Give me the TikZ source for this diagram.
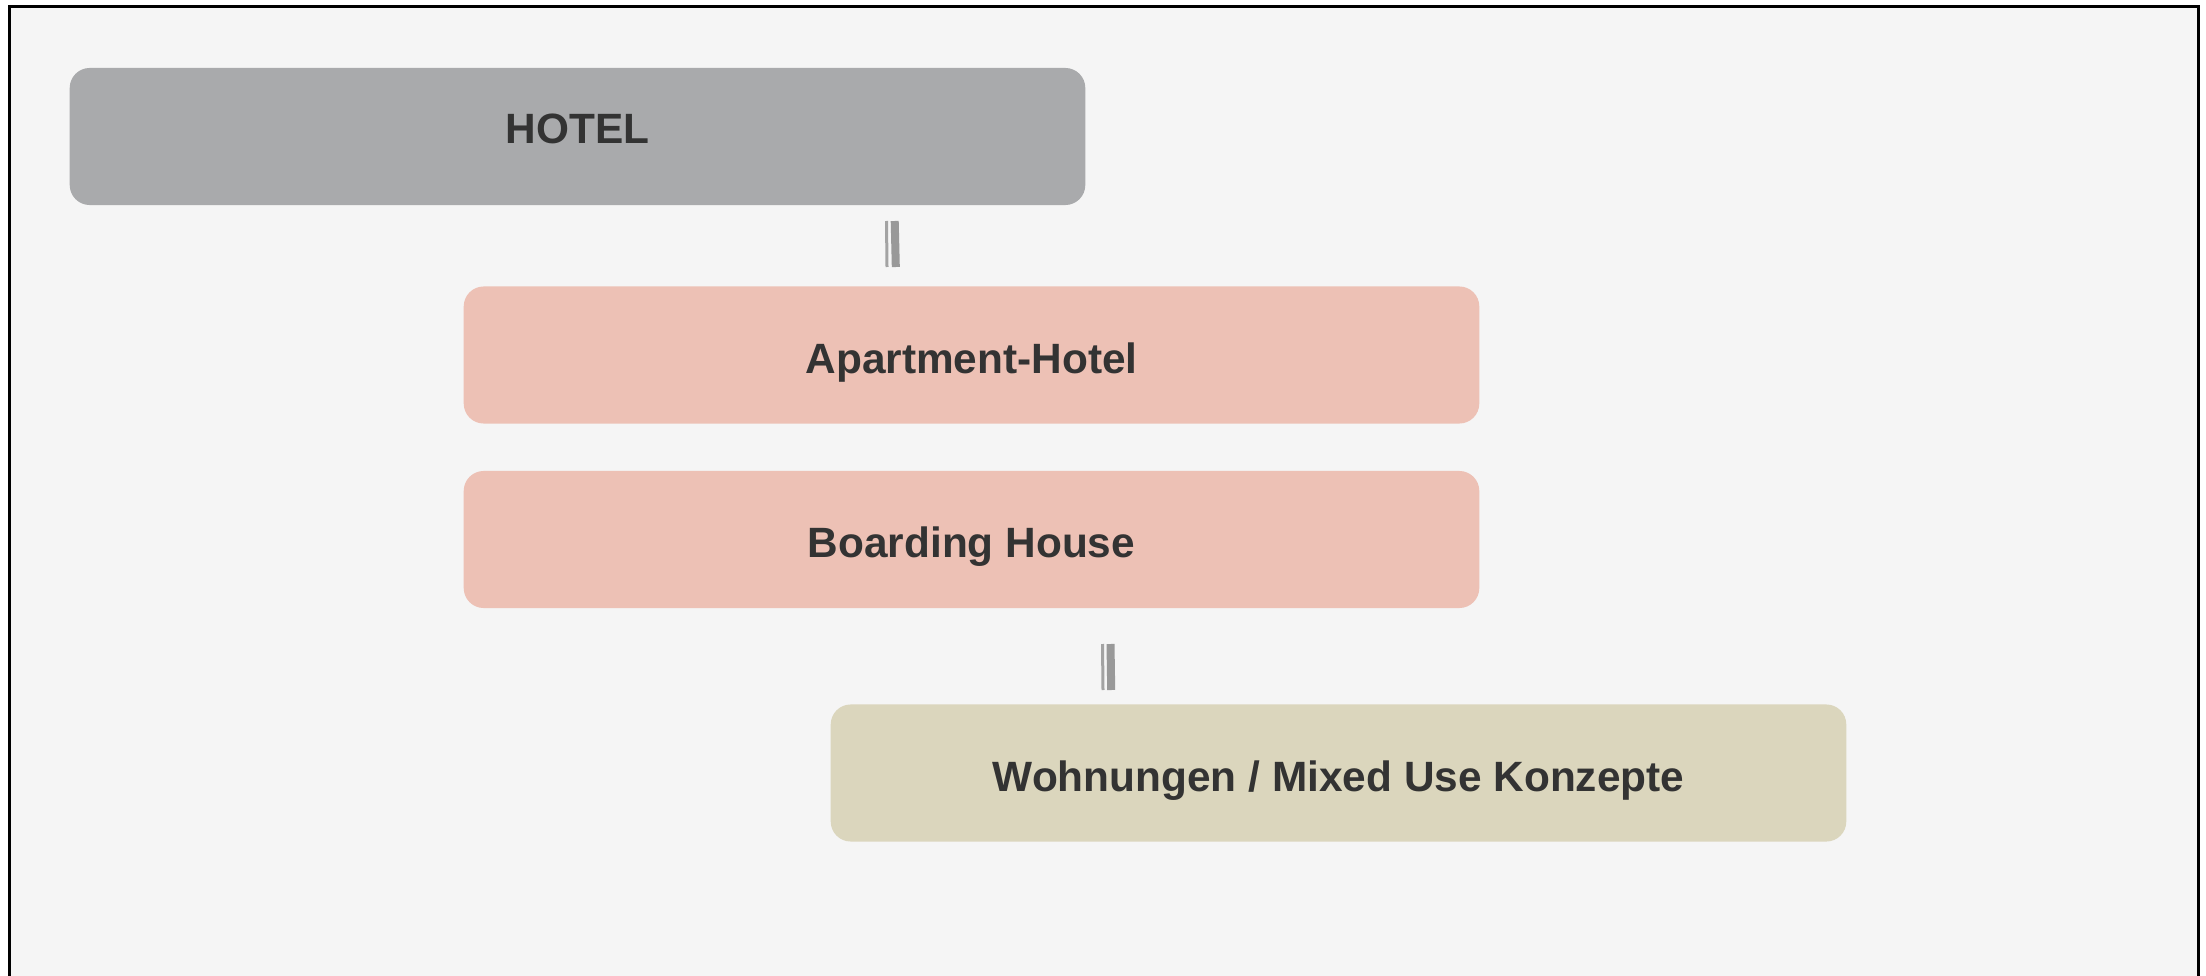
\documentclass[tikz,border=0pt]{standalone}
\usepackage{fontspec}
\setmainfont{Liberation Sans}
\definecolor{bgcol}{HTML}{F5F5F5}
\definecolor{hotelcol}{HTML}{A9AAAC}
\definecolor{aparthcol}{HTML}{EDC1B5}
\definecolor{wohncol}{HTML}{DBD6BD}
\definecolor{txtcol}{HTML}{333333}
\definecolor{barcol}{HTML}{999999}

\begin{document}
\begin{tikzpicture}[x=0.01cm,y=-0.01cm,
  box/.style={rounded corners=0.2cm,minimum width=10.15cm,minimum height=1.37cm,inner sep=0pt,
    text=txtcol,font=\fontsize{12.05}{14}\selectfont\bfseries,text height=0.36cm,text depth=0cm},
  thinbar/.style={draw=barcol!90!white,line width=0.03cm},
  thickbar/.style={draw=barcol,line width=0.08cm}]
\useasboundingbox (0,0) rectangle (2206,976);
\fill[bgcol] (9.7,6.2) rectangle (2198,976);
\draw[line width=0.03cm] (9.7,976) -- (9.7,6.2) -- (2198,6.2) -- (2198,976);

\node[box,fill=hotelcol,text depth=0.22cm] (hotel) at (577.5,136.5) {HOTEL};
\node[box,fill=aparthcol] (aparthotel) at (971.5,355) {Apartment-Hotel};
\node[box,fill=aparthcol] (boarding) at (971.5,539.5) {Boarding House};
\node[box,fill=wohncol] (wohnen) at (1338.5,773) {Wohnungen / Mixed Use Konzepte};

\draw[thinbar] (886.5,221) -- (887,267);
\draw[thickbar] (894.7,221) -- (895.8,267);
\draw[thinbar] (1102.5,644) -- (1103,690);
\draw[thickbar] (1110.5,644) -- (1111.2,690);

\end{tikzpicture}
\end{document}
